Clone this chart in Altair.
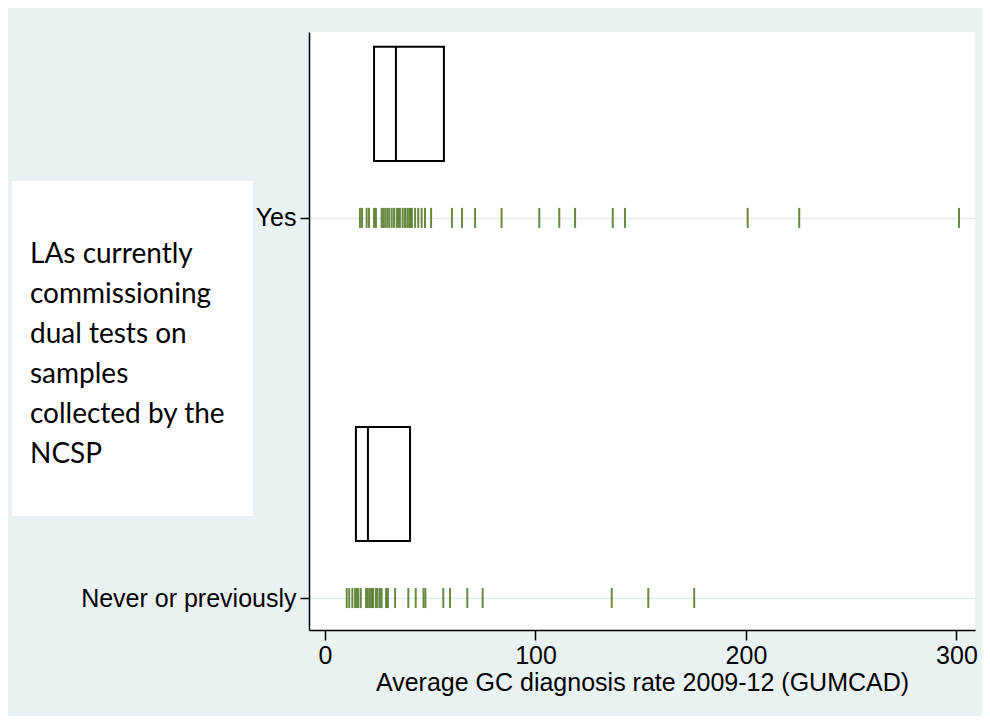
import altair as alt
import pandas as pd

# ---- data ----
groups = ["Never or previously", "Yes"]
group_pos = [0, 1]

yes_rates = [16.6, 17.6, 19.8, 20.9, 23.3, 24.2, 26.9, 27.7, 28.6, 29.6, 30.5,
             31.7, 32.8, 34.1, 34.8, 35.6, 36.9, 38.0, 39.1, 40.0, 40.6, 41.3,
             42.8, 44.3, 45.9, 47.5, 50.4, 60.3, 65.1, 71.3, 83.9, 101.8,
             111.3, 118.8, 136.7, 142.5, 200.8, 225.3, 301.2]
never_rates = [10.3, 11.5, 13.0, 14.3, 15.1, 15.8, 17.0, 19.5, 20.4, 21.4,
               22.3, 22.9, 24.2, 25.0, 26.1, 26.9, 29.0, 29.9, 33.3, 39.6,
               43.1, 46.8, 47.7, 56.2, 59.4, 67.6, 74.9, 136.2, 153.6, 175.4]

box_q1 = [14.7, 23.3]
box_median = [20.4, 33.7]
box_q3 = [40.4, 56.5]

x_ticks = [0, 100, 200, 300]
x_title = "Average GC diagnosis rate 2009-12 (GUMCAD)"
side_title = ["LAs currently", "commissioning", "dual tests on", "samples",
              "collected by the", "NCSP"]

rug = pd.DataFrame({
    "rate": yes_rates + never_rates,
    "pos": [group_pos[1]] * len(yes_rates) + [group_pos[0]] * len(never_rates),
})
boxes = pd.DataFrame({"group": groups, "pos": group_pos, "q1": box_q1,
                      "median": box_median, "q3": box_q3})

FONT = "Liberation Sans"
xscale = alt.Scale(domain=[-7.6, 308.8], nice=False, zero=False)
yscale = alt.Scale(domain=[-0.084, 1.489], nice=False, zero=False)

xaxis = alt.Axis(values=x_ticks, title=x_title, grid=False, tickSize=10,
                 labelPadding=3, titlePadding=2, labelFlush=False)
yaxis = alt.Axis(values=group_pos, title=None, grid=True, gridColor="#E2ECEE",
                 gridWidth=1.5, tickSize=9, labelPadding=4, labelLimit=0,
                 labelExpr="datum.value == 1 ? 'Yes' : 'Never or previously'")

rug_layer = alt.Chart(rug).mark_tick(
    orient="vertical", size=20, thickness=2, color="#587C2C", opacity=0.9
).encode(
    x=alt.X("rate:Q", scale=xscale, axis=xaxis),
    y=alt.Y("pos:Q", scale=yscale, axis=yaxis),
)

box_base = alt.Chart(boxes).transform_calculate(
    lo="datum.pos + 0.15", hi="datum.pos + 0.45"
)
box_layer = box_base.mark_rect(
    fill="white", fillOpacity=0, stroke="black", strokeWidth=2
).encode(
    x=alt.X("q1:Q", scale=xscale, axis=xaxis),
    x2="q3:Q",
    y=alt.Y("lo:Q", scale=yscale, axis=yaxis),
    y2="hi:Q",
)
median_layer = box_base.mark_rule(color="black", strokeWidth=2).encode(
    x=alt.X("median:Q", scale=xscale, axis=xaxis),
    y=alt.Y("lo:Q", scale=yscale, axis=yaxis),
    y2="hi:Q",
)

side = pd.DataFrame({"k": [0]})
side_box = alt.Chart(side).mark_rect(fill="white").encode(
    x=alt.value(-297), x2=alt.value(-56), y=alt.value(149), y2=alt.value(484)
)
side_text = alt.Chart(side).mark_text(
    align="left", baseline="alphabetic", font="Lato", fontSize=28,
    lineHeight=40, color="black"
).encode(
    x=alt.value(-279), y=alt.value(231), text=alt.value(side_title)
)

chart = alt.layer(side_box, side_text, rug_layer, box_layer, median_layer).properties(
    width=666, height=598,
    padding={"left": 301, "top": 24, "right": 7, "bottom": 86},
    autosize=alt.AutoSizeParams(type="none"),
    background="#EAF2F3",
).configure_view(fill="white", strokeWidth=0).configure_axis(
    domainColor="black", domainWidth=1.5, tickColor="black", tickWidth=1.5,
    labelFont=FONT, labelFontSize=25, labelColor="black",
    titleFont=FONT, titleFontSize=25, titleFontWeight="normal", titleColor="black",
)

chart.save("out.html", embed_options={"renderer": "svg", "actions": False})
